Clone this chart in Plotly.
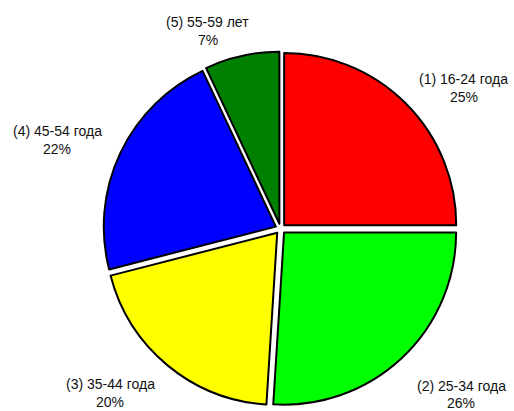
import plotly.graph_objects as go

labels = ["(1) 16-24 года", "(2) 25-34 года", "(3) 35-44 года", "(4) 45-54 года", "(5) 55-59 лет"]
values = [25, 26, 20, 22, 7]
colors = ["#ff0000", "#00ff00", "#ffff00", "#0000ff", "#008000"]

W, H = 514, 411
# label anchor positions (pixels): x center, y of first line, y of second line
label_pos = [(463.5, 78.5, 96.5), (461, 385.5, 402.5), (110, 384, 401.5),
             (57, 130.8, 149), (207.5, 22.5, 40)]

fig = go.Figure(go.Pie(
    labels=labels, values=values, sort=False, direction="clockwise", rotation=0,
    marker=dict(colors=colors, line=dict(color="black", width=2)),
    pull=[0.03] * len(values), textinfo="none", hoverinfo="label+percent",
    domain=dict(x=[0.2, 0.8915], y=[0.012, 0.8745]),
    showlegend=False,
))

total = sum(values)
anns = []
for lab, v, (px, py1, py2) in zip(labels, values, label_pos):
    pct = f"{round(100 * v / total)}%"
    for txt, py in ((lab, py1), (pct, py2)):
        anns.append(dict(x=px / W, y=1 - py / H, xref="paper", yref="paper",
                         text=txt, showarrow=False, xanchor="center", yanchor="middle",
                         font=dict(family="Liberation Sans, Arial", size=14, color="#111")))

fig.update_layout(width=W, height=H, margin=dict(l=0, r=0, t=0, b=0),
                  paper_bgcolor="white", plot_bgcolor="white", annotations=anns)
fig.write_html("out.html")
